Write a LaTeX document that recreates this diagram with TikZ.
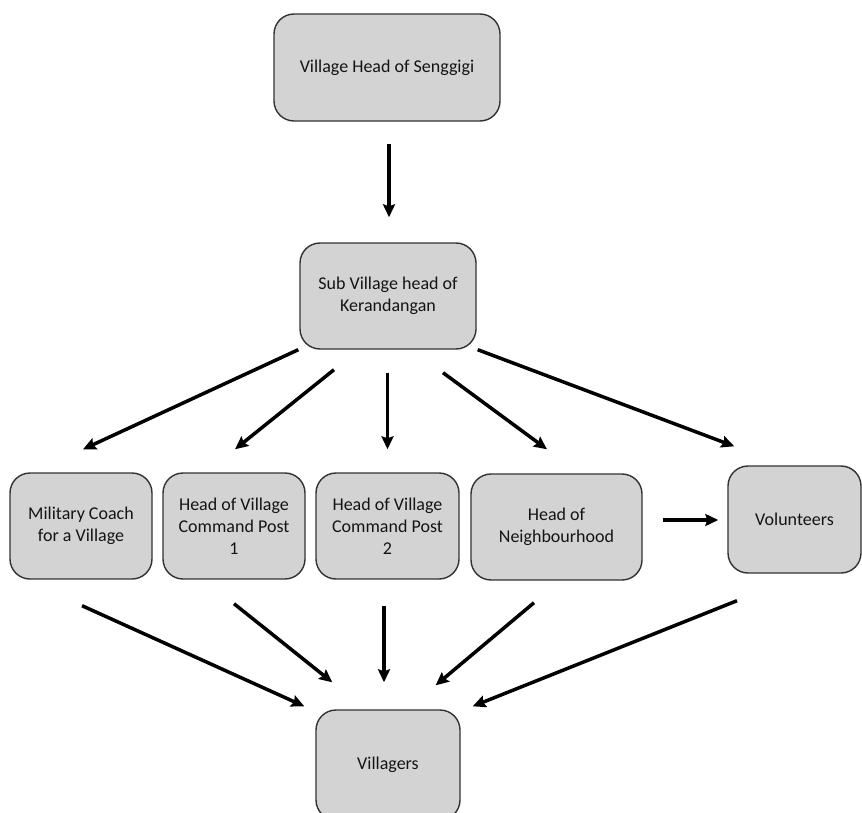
\documentclass[tikz,border=0pt]{standalone}
\usepackage{fontspec}
\setmainfont{Carlito}
\usetikzlibrary{arrows.meta}
\definecolor{boxfill}{RGB}{211,211,211}
\definecolor{boxline}{RGB}{50,50,50}
\definecolor{txt}{RGB}{20,20,20}
\tikzset{
  box/.style={draw=boxline, line width=1.4pt, fill=boxfill, rounded corners=20pt,
    align=center, text=txt, font=\fontsize{18pt}{22pt}\selectfont, inner sep=2pt},
  arr/.style={line width=3.5pt, draw=black, -{Stealth[length=13pt,width=12pt,inset=2pt]}}
}
\begin{document}
\begin{tikzpicture}[x=1pt,y=-1pt]
\useasboundingbox (0,0) rectangle (862,813);
\node[box, minimum width=226pt, minimum height=107pt] (top) at (387,67.5) {Village Head of Senggigi};
\node[box, minimum width=176pt, minimum height=106pt] (sub) at (388,296) {Sub Village head of\\Kerandangan};
\node[box, minimum width=142pt, minimum height=106pt] (mil) at (81,526) {Military Coach\\for a Village};
\node[box, minimum width=142pt, minimum height=106pt] (hv1) at (234,526) {Head of Village\\Command Post\\1};
\node[box, minimum width=143pt, minimum height=106pt] (hv2) at (387.5,526) {Head of Village\\Command Post\\2};
\node[box, minimum width=171pt, minimum height=106pt] (nb) at (556.5,527) {Head of\\Neighbourhood};
\node[box, minimum width=133pt, minimum height=107pt] (vol) at (794.5,519.5) {Volunteers};
\node[box, minimum width=144pt, minimum height=110pt] (vill) at (388,765) {Villagers};

\draw[arr] ([shift={(2,22)}]top.south) -- ([shift={(1,-25)}]sub.north);
\draw[arr] ([shift={(-1,0)}]sub.south west) -- ([shift={(2,-23)}]mil.north);
\draw[arr] ([shift={(-54,20)}]sub.south) -- ([shift={(1,-23)}]hv1.north);
\draw[arr] ([shift={(-0.5,23)}]sub.south) -- ([shift={(0,-23)}]hv2.north);
\draw[arr] ([shift={(55,23)}]sub.south) -- ([shift={(-9.5,-24)}]nb.north);
\draw[arr] ([shift={(1,0)}]sub.south east) -- ([shift={(7,-19)}]vol.north west);
\draw[arr] ([shift={(20,-7)}]nb.east) -- ([shift={(-9,0.5)}]vol.west);

\draw[arr] ([shift={(1,26)}]mil.south) -- ([shift={(-11,-3)}]vill.north west);
\draw[arr] ([shift={(0,24)}]hv1.south) -- ([shift={(17,-27)}]vill.north west);
\draw[arr] ([shift={(-3.5,26)}]hv2.south) -- ([shift={(-4,-27)}]vill.north);
\draw[arr] ([shift={(-22.5,22)}]nb.south) -- ([shift={(-25,-24)}]vill.north east);
\draw[arr] ([shift={(-57.5,27)}]vol.south) -- ([shift={(12,-3)}]vill.north east);
\end{tikzpicture}
\end{document}
